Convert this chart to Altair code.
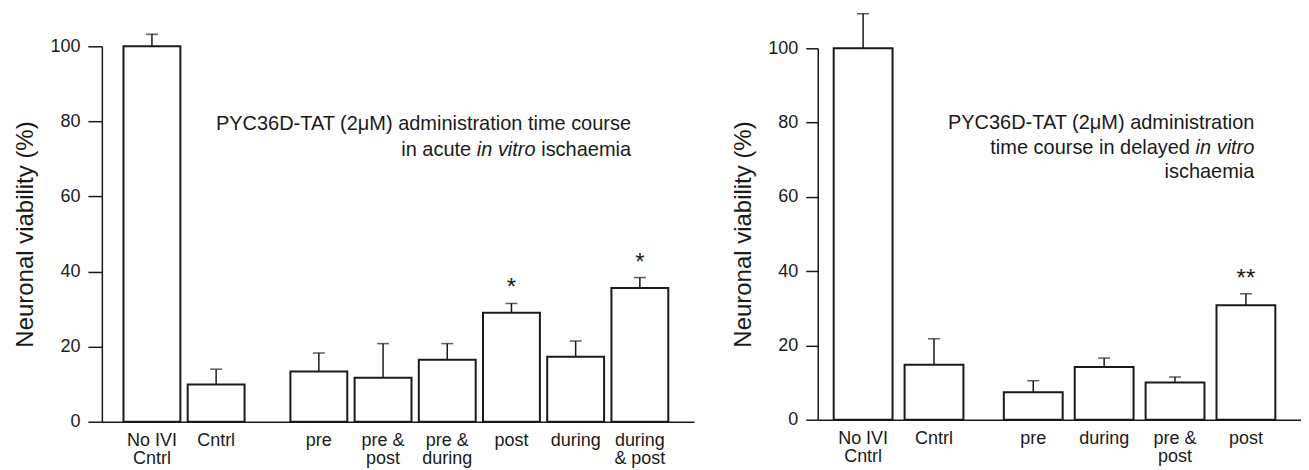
import altair as alt
import pandas as pd

FONT = "Liberation Sans"
INK = "#1a1a1a"

# ---- data ----
left_labels = ["No IVI\nCntrl", "Cntrl", "pre", "pre &\npost", "pre &\nduring", "post", "during", "during\n& post"]
left_means = [100.0, 9.9, 13.4, 11.7, 16.5, 29.0, 17.3, 35.6]
left_err = [3.2, 4.1, 4.9, 9.1, 4.3, 2.5, 4.2, 2.8]
left_sig = ["", "", "", "", "", "*", "", "*"]

right_labels = ["No IVI\nCntrl", "Cntrl", "pre", "during", "pre &\npost", "post"]
right_means = [100.0, 14.8, 7.4, 14.2, 10.0, 30.8]
right_err = [9.3, 7.0, 3.1, 2.4, 1.5, 3.1]
right_sig = ["", "", "", "", "", "**"]

y_title = "Neuronal viability (%)"


def note(text, x, y, italic=False):
    return alt.Chart(alt.Data(values=[{}])).mark_text(
        text=text, align="right", baseline="alphabetic", fontSize=20,
        fontStyle="italic" if italic else "normal", font=FONT, color=INK,
    ).encode(x=alt.value(x), y=alt.value(y))


def panel(labels, means, errs, sig, *, step, start, gap, barw, width, height,
          major_tick, minor_tick, notes):
    n = len(labels)
    # layout: controls first (2 bars), then a wider gap before the treatment bars
    pos = [start + i + (gap if i >= 2 else 0) for i in range(n)]
    df = pd.DataFrame({"label": labels, "mean": means, "err": errs, "sig": sig, "pos": pos})
    dom = width / step
    xs = alt.Scale(domain=[0, dom], nice=False, zero=False)
    ys = alt.Scale(domain=[0, 100], nice=False)
    base = alt.Chart(df).transform_calculate(
        top="datum.mean + datum.err",
        x0=f"datum.pos - {barw / 2}",
        x1=f"datum.pos + {barw / 2}",
        zero="0",
    )
    yaxis = alt.Axis(
        values=list(range(0, 101, 10)),
        labelExpr="datum.value % 20 === 0 ? datum.label : ''",
        tickSize={"condition": {"test": "datum.value % 20 === 0", "value": major_tick}, "value": minor_tick},
        tickWidth=1.5, tickColor=INK, domainColor=INK, domainWidth=1.5,
        labelFont=FONT, labelFontSize=18, labelColor=INK, labelPadding=8,
        title=y_title, titleFont=FONT, titleFontSize=24, titleFontWeight="normal",
        titleColor=INK, titlePadding=12, grid=False,
    )
    xaxis = alt.Axis(labels=False, ticks=False, grid=False, title=None,
                     domainColor=INK, domainWidth=1.5)
    bars = base.mark_rect(fill="white", stroke=INK, strokeWidth=2).encode(
        x=alt.X("x0:Q", scale=xs, axis=xaxis),
        x2="x1",
        y=alt.Y("mean:Q", scale=ys, axis=yaxis),
        y2="zero",
    )
    stems = base.mark_rule(color=INK, strokeWidth=1.5).encode(
        x="pos:Q", y="mean:Q", y2="top"
    )
    caps = base.mark_tick(orient="horizontal", size=12, thickness=1.5, color=INK).encode(
        x="pos:Q", y="top:Q"
    )
    stars = base.transform_filter("datum.sig != ''").mark_text(
        fontSize=24, baseline="alphabetic", dy=-8, font=FONT, color=INK
    ).encode(x="pos:Q", y="top:Q", text="sig:N")
    cats = base.mark_text(
        fontSize=18, baseline="alphabetic", lineBreak="\n", lineHeight=18.5,
        font=FONT, color=INK,
    ).encode(x="pos:Q", y=alt.value(height + 24), text="label:N")
    layers = [bars, stems, caps, stars, cats] + [note(*a) for a in notes]
    return alt.layer(*layers).properties(width=width, height=height)


left = panel(
    left_labels, left_means, left_err, left_sig,
    step=64.3, start=0.78, gap=0.6, barw=0.886, width=593, height=376,
    major_tick=14, minor_tick=7,
    notes=[
        ("PYC36D-TAT (2\u03bcM) administration time course", 530, 84),
        ("ischaemia", 530, 110),
        ("in vitro", 434.4, 110, True),
        ("in acute", 369.9, 110),
    ],
)

right = panel(
    right_labels, right_means, right_err, right_sig,
    step=71, start=0.64, gap=0.4, barw=0.83, width=484, height=372,
    major_tick=12, minor_tick=6,
    notes=[
        ("PYC36D-TAT (2\u03bcM) administration", 437.3, 81.3),
        ("in vitro", 437.3, 106.3, True),
        ("time course in delayed", 372.8, 106.3),
        ("ischaemia", 437.3, 129.7),
    ],
)

chart = alt.hconcat(left, right, spacing=124, bounds="flush", center=True).configure_view(
    stroke=None
).properties(
    padding={"left": 5, "top": 4, "right": 0, "bottom": 0}
)

chart.save("out.html", embed_options={"renderer": "svg", "actions": False})
